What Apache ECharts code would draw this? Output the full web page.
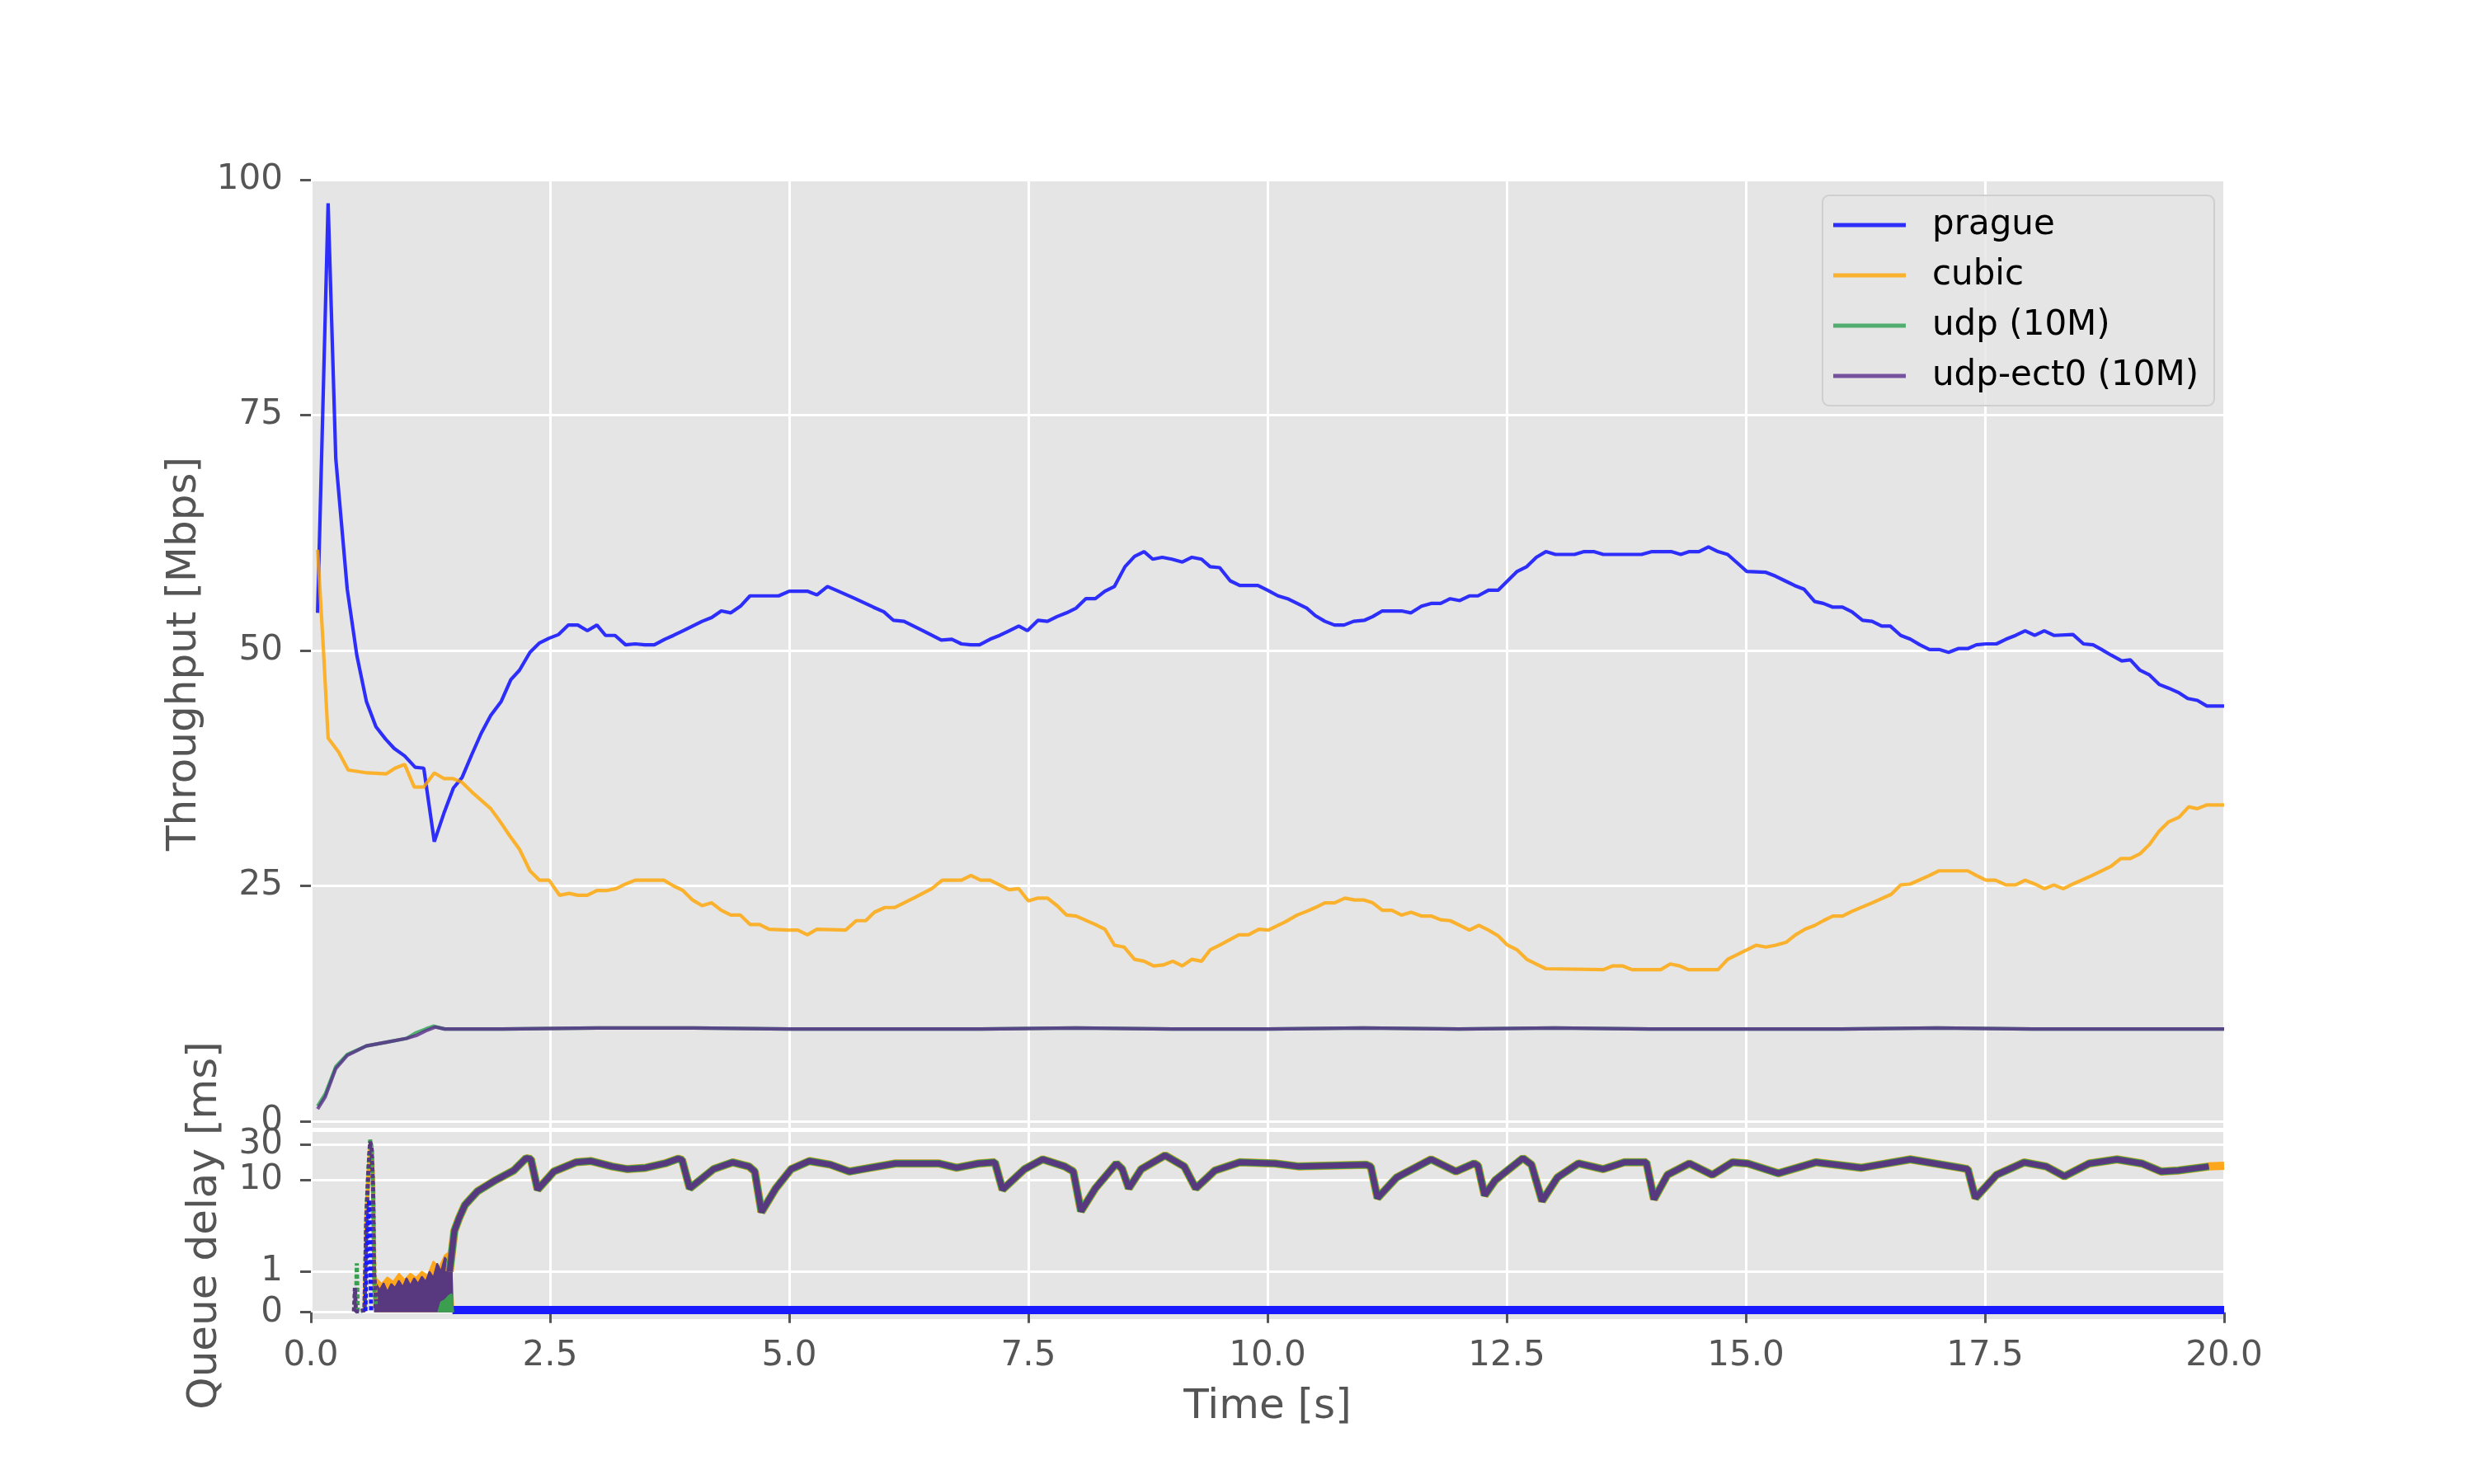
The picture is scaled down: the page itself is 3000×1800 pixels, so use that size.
<!DOCTYPE html>
<html><head><meta charset="utf-8">
<script src="https://cdn.jsdelivr.net/npm/echarts@6/dist/echarts.min.js"></script>
<style>html,body{margin:0;padding:0;background:#fff}#c{width:3000px;height:1800px}</style>
</head><body><div id="c"></div>
<script>
// ---------------- data ----------------
const seriesNames = ['prague', 'cubic', 'udp (10M)', 'udp-ect0 (10M)'];
const tputTicks = [0, 25, 50, 75, 100];
const delayTicks = [0, 1, 10, 30];

// throughput [Mbps] as [time s, value]
const pragueTput = [[0.07,54.0],[0.18,97.5],[0.26,70.4],[0.38,56.5],[0.48,49.5],[0.58,44.6],[0.68,41.9],[0.78,40.6],[0.87,39.6],[0.98,38.8],[1.09,37.6],[1.18,37.5],[1.29,29.7],[1.39,32.7],[1.49,35.4],[1.58,36.5],[1.68,38.9],[1.78,41.2],[1.88,43.1],[1.99,44.6],[2.09,46.9],[2.18,47.9],[2.29,49.8],[2.39,50.8],[2.49,51.3],[2.59,51.7],[2.69,52.7],[2.79,52.7],[2.89,52.1],[2.99,52.7],[3.08,51.6],[3.18,51.6],[3.29,50.6],[3.39,50.7],[3.49,50.6],[3.59,50.6],[3.70,51.2],[3.79,51.6],[3.89,52.1],[3.99,52.6],[4.09,53.1],[4.19,53.5],[4.29,54.2],[4.39,54.0],[4.49,54.7],[4.59,55.8],[4.68,55.8],[4.78,55.8],[4.89,55.8],[5.00,56.3],[5.19,56.3],[5.29,55.9],[5.40,56.8],[5.49,56.4],[5.69,55.5],[5.88,54.6],[5.99,54.1],[6.09,53.2],[6.20,53.1],[6.40,52.1],[6.59,51.1],[6.70,51.2],[6.80,50.7],[6.90,50.6],[6.99,50.6],[7.10,51.2],[7.20,51.6],[7.30,52.1],[7.40,52.6],[7.49,52.1],[7.60,53.2],[7.70,53.1],[7.80,53.6],[7.90,54.0],[8.00,54.5],[8.10,55.5],[8.20,55.5],[8.30,56.3],[8.40,56.8],[8.51,58.9],[8.61,60.0],[8.71,60.5],[8.80,59.7],[8.90,59.9],[9.00,59.7],[9.11,59.4],[9.21,59.9],[9.31,59.7],[9.40,58.9],[9.50,58.8],[9.61,57.4],[9.71,56.9],[9.90,56.9],[10.00,56.4],[10.11,55.8],[10.21,55.5],[10.31,55.0],[10.41,54.5],[10.50,53.7],[10.60,53.1],[10.70,52.7],[10.80,52.7],[10.90,53.1],[11.01,53.2],[11.10,53.6],[11.20,54.2],[11.40,54.2],[11.50,54.0],[11.61,54.7],[11.71,55.0],[11.81,55.0],[11.91,55.5],[12.01,55.3],[12.11,55.8],[12.20,55.8],[12.31,56.4],[12.41,56.4],[12.51,57.4],[12.61,58.4],[12.71,58.9],[12.81,59.9],[12.91,60.5],[13.01,60.2],[13.21,60.2],[13.31,60.5],[13.41,60.5],[13.51,60.2],[13.91,60.2],[14.02,60.5],[14.22,60.5],[14.32,60.2],[14.41,60.5],[14.51,60.5],[14.61,61.0],[14.71,60.5],[14.81,60.2],[14.91,59.3],[15.01,58.4],[15.21,58.3],[15.31,57.9],[15.41,57.4],[15.51,56.9],[15.61,56.5],[15.72,55.2],[15.81,55.0],[15.91,54.6],[16.01,54.6],[16.11,54.1],[16.22,53.2],[16.32,53.1],[16.42,52.6],[16.51,52.6],[16.62,51.6],[16.72,51.2],[16.82,50.6],[16.92,50.1],[17.02,50.1],[17.12,49.8],[17.22,50.2],[17.32,50.2],[17.41,50.6],[17.51,50.7],[17.62,50.7],[17.72,51.2],[17.82,51.6],[17.92,52.1],[18.02,51.6],[18.12,52.1],[18.22,51.6],[18.42,51.7],[18.53,50.7],[18.63,50.6],[18.72,50.1],[18.82,49.5],[18.93,48.9],[19.02,49.0],[19.12,47.9],[19.22,47.4],[19.32,46.4],[19.42,46.0],[19.53,45.5],[19.62,44.9],[19.72,44.7],[19.82,44.1],[20.0,44.1]];

const cubicTput = [[0.07,60.7],[0.13,50.3],[0.18,40.7],[0.29,39.2],[0.39,37.3],[0.59,37.0],[0.79,36.9],[0.88,37.5],[0.98,37.9],[1.08,35.5],[1.18,35.5],[1.29,37.0],[1.39,36.4],[1.48,36.4],[1.58,36.0],[1.68,35.0],[1.78,34.1],[1.88,33.2],[1.98,31.8],[2.08,30.3],[2.18,28.9],[2.29,26.6],[2.39,25.6],[2.49,25.6],[2.60,24.0],[2.70,24.2],[2.79,24.0],[2.89,24.0],[2.99,24.5],[3.09,24.5],[3.19,24.7],[3.29,25.2],[3.39,25.6],[3.59,25.6],[3.69,25.6],[3.79,25.0],[3.89,24.5],[3.99,23.5],[4.09,22.9],[4.19,23.2],[4.29,22.4],[4.39,21.9],[4.49,21.9],[4.59,20.9],[4.69,20.9],[4.79,20.4],[4.99,20.3],[5.09,20.3],[5.19,19.8],[5.29,20.4],[5.59,20.3],[5.70,21.3],[5.80,21.3],[5.89,22.2],[6.00,22.7],[6.10,22.7],[6.30,23.7],[6.49,24.7],[6.60,25.6],[6.80,25.6],[6.90,26.1],[7.00,25.6],[7.10,25.6],[7.20,25.1],[7.30,24.6],[7.40,24.7],[7.50,23.4],[7.60,23.7],[7.70,23.7],[7.80,22.9],[7.90,21.9],[8.00,21.8],[8.20,20.9],[8.30,20.4],[8.40,18.7],[8.50,18.5],[8.61,17.2],[8.71,17.0],[8.81,16.5],[8.91,16.6],[9.01,17.0],[9.11,16.5],[9.21,17.2],[9.31,17.0],[9.40,18.2],[9.50,18.7],[9.70,19.8],[9.80,19.8],[9.91,20.4],[10.01,20.3],[10.11,20.8],[10.19,21.2],[10.31,21.9],[10.41,22.3],[10.50,22.7],[10.60,23.2],[10.70,23.2],[10.81,23.7],[10.91,23.5],[11.01,23.5],[11.10,23.2],[11.20,22.4],[11.30,22.4],[11.40,21.9],[11.50,22.2],[11.61,21.8],[11.71,21.8],[11.81,21.4],[11.91,21.3],[12.01,20.8],[12.11,20.3],[12.21,20.8],[12.31,20.3],[12.41,19.7],[12.51,18.7],[12.61,18.2],[12.71,17.2],[12.81,16.7],[12.91,16.2],[13.51,16.1],[13.61,16.5],[13.71,16.5],[13.81,16.1],[14.11,16.1],[14.21,16.7],[14.31,16.5],[14.40,16.1],[14.71,16.1],[14.81,17.2],[14.91,17.7],[15.01,18.2],[15.11,18.7],[15.21,18.5],[15.31,18.7],[15.42,19.0],[15.52,19.8],[15.62,20.4],[15.72,20.8],[15.81,21.3],[15.91,21.8],[16.01,21.8],[16.11,22.3],[16.32,23.2],[16.52,24.1],[16.62,25.1],[16.72,25.2],[16.92,26.1],[17.02,26.6],[17.32,26.6],[17.41,26.1],[17.51,25.6],[17.61,25.6],[17.72,25.1],[17.82,25.1],[17.92,25.6],[18.02,25.2],[18.12,24.7],[18.22,25.1],[18.32,24.7],[18.42,25.2],[18.62,26.1],[18.82,27.1],[18.92,27.9],[19.02,27.9],[19.12,28.4],[19.22,29.4],[19.32,30.8],[19.42,31.8],[19.53,32.3],[19.63,33.4],[19.72,33.2],[19.82,33.6],[20.0,33.6]];

const udpTput = [[0.07,1.6],[0.15,2.9],[0.26,5.8],[0.38,7.1],[0.58,8.0],[0.79,8.4],[1.0,8.8],[1.1,9.4],[1.2,9.8],[1.28,10.1],[1.4,9.8],[2.0,9.8],[3.0,9.9],[4.0,9.9],[5.0,9.8],[6.0,9.8],[7.0,9.8],[8.0,9.9],[9.0,9.8],[10.0,9.8],[11.0,9.9],[12.0,9.8],[13.0,9.9],[14.0,9.8],[15.0,9.8],[16.0,9.8],[17.0,9.9],[18.0,9.8],[19.0,9.8],[20.0,9.8]];
const ect0Tput = [[0.07,1.3],[0.15,2.6],[0.26,5.6],[0.38,7.0],[0.58,8.0],[0.79,8.4],[1.0,8.8],[1.1,9.1],[1.2,9.6],[1.3,10.0],[1.4,9.8],[2.0,9.8],[3.0,9.9],[4.0,9.9],[5.0,9.8],[6.0,9.8],[7.0,9.8],[8.0,9.9],[9.0,9.8],[10.0,9.8],[11.0,9.9],[12.0,9.8],[13.0,9.9],[14.0,9.8],[15.0,9.8],[16.0,9.8],[17.0,9.9],[18.0,9.8],[19.0,9.8],[20.0,9.8]];

// queue delay [ms] as [time s, value]
const pragueSpike = [[0.57,0.03],[0.59,2.0],[0.61,5.3],[0.62,1.5],[0.63,0.03]];
const pragueBand = [[1.48,0.055],[20.0,0.055]];
const cubicSpike = [[0.56,0.05],[0.58,3.0],[0.60,11],[0.62,30],[0.64,24],[0.655,6],[0.665,0.8],[0.68,0.3]];
const udpSpike = [[0.47,0.02],[0.48,1.2],[0.49,0.02],[0.56,0.05],[0.58,3.5],[0.60,13],[0.62,35],[0.635,27],[0.65,7],[0.665,0.5],[0.68,0.2]];
const ect0Spike = [[0.45,0.02],[0.46,0.6],[0.47,0.02],[0.56,0.05],[0.58,3.0],[0.60,12],[0.62,33],[0.635,26],[0.65,8],[0.66,1.0],[0.68,0.3]];
const classicQueue = [[1.45,1.0],[1.50,2.0],[1.55,3.0],[1.61,4.5],[1.74,6.9],[1.93,9.8],[2.12,13.3],[2.25,19.6],[2.30,19.0],[2.37,7.3],[2.54,12.9],[2.77,17.2],[2.93,17.9],[3.15,15.1],[3.31,13.9],[3.50,14.5],[3.70,16.6],[3.84,19.3],[3.88,18.5],[3.96,7.6],[4.21,13.9],[4.41,17.2],[4.58,15.1],[4.64,12.9],[4.71,3.6],[4.86,7.6],[5.02,13.9],[5.21,17.9],[5.43,16.0],[5.63,12.9],[5.85,14.5],[6.11,16.6],[6.56,16.6],[6.75,14.5],[6.98,16.6],[7.15,17.2],[7.23,7.3],[7.46,13.9],[7.65,18.9],[7.88,15.1],[7.97,12.9],[8.05,3.7],[8.20,7.6],[8.42,16.6],[8.48,14.0],[8.55,7.6],[8.68,13.9],[8.93,21.4],[9.13,15.1],[9.25,7.6],[9.45,13.3],[9.71,17.2],[10.08,16.6],[10.33,15.1],[11.03,16.0],[11.08,15.0],[11.15,5.6],[11.35,10.7],[11.71,18.9],[11.97,12.9],[12.16,16.6],[12.20,15.5],[12.27,6.1],[12.38,9.8],[12.67,19.6],[12.76,16.0],[12.87,5.1],[13.03,10.7],[13.25,16.6],[13.51,13.9],[13.73,17.2],[13.96,17.2],[14.04,5.4],[14.18,11.6],[14.41,16.6],[14.65,11.6],[14.86,17.2],[15.02,16.6],[15.34,12.2],[15.73,17.2],[16.21,14.5],[16.72,18.9],[17.24,14.5],[17.32,13.9],[17.40,5.6],[17.62,11.6],[17.91,17.2],[18.14,15.1],[18.33,11.1],[18.59,16.6],[18.88,18.9],[19.14,16.6],[19.34,12.9],[19.52,13.3],[19.84,15.1]];
const cubicTail = [[20.0,15.4]];
// upper envelopes of the dense sample clouds (0.66 s .. 1.5 s)
const cubicCloud = [[0.66,0.1],[0.68,0.84],[0.74,0.7],[0.80,0.86],[0.86,0.75],[0.92,0.95],[0.98,0.8],[1.04,0.95],[1.10,0.85],[1.16,1.0],[1.22,0.9],[1.28,1.25],[1.34,1.1],[1.40,1.4],[1.46,1.5],[1.49,0.1]];
const ect0Cloud = [[0.66,0.1],[0.68,0.7],[0.72,0.55],[0.76,0.72],[0.80,0.5],[0.84,0.7],[0.88,0.6],[0.92,0.78],[0.96,0.62],[1.00,0.84],[1.04,0.66],[1.08,0.84],[1.12,0.7],[1.16,0.88],[1.20,0.75],[1.24,1.0],[1.28,0.85],[1.32,1.2],[1.36,1.0],[1.40,1.35],[1.44,1.2],[1.47,1.5],[1.48,0.1]];
const udpCloud = [[1.33,0.0],[1.36,0.25],[1.40,0.3],[1.44,0.4],[1.47,0.45],[1.49,0.0]];

// ---------------- symlog scale for the delay axis ----------------
const LINTHRESH = 2, LINSCALE_ADJ = 1 / (1 - 1 / 10);
function symlog(v) {
  if (v === null) return null;
  const a = Math.abs(v);
  const r = a <= LINTHRESH ? a * LINSCALE_ADJ : LINTHRESH * (LINSCALE_ADJ + Math.log10(a / LINTHRESH));
  return v < 0 ? -r : r;
}
const toSym = arr => arr.map(([t, v]) => [t, symlog(v)]);

const C = {
  prague: 'rgba(0,0,255,0.8)', cubic: 'rgba(255,165,0,0.8)',
  udp: 'rgba(44,160,80,0.8)', ect0: 'rgba(90,45,140,0.8)'
};
const B = { prague: '#1a1aff', cubic: '#ffa71c', udp: '#3c9f50', ect0: '#58387f' };
const FONT = 'DejaVu Sans';

function topLine(name, data, color, z) {
  return { name, type: 'line', xAxisIndex: 0, yAxisIndex: 0, data, showSymbol: false, silent: true,
    lineStyle: { width: 4.2, color }, itemStyle: { color }, z };
}
function botLine(name, data, color, width, z, legendColor, dotted) {
  return { name, type: 'line', xAxisIndex: 1, yAxisIndex: 1, data: toSym(data), showSymbol: false, silent: true,
    lineStyle: { width, color, type: dotted ? [5, 3] : 'solid' }, itemStyle: { color: legendColor }, z };
}
function botArea(name, data, color, z, legendColor) {
  return { name, type: 'line', xAxisIndex: 1, yAxisIndex: 1, data: toSym(data), showSymbol: false, silent: true,
    lineStyle: { width: 2, color }, areaStyle: { color, opacity: 1 }, itemStyle: { color: legendColor }, z };
}

const axisText = { fontSize: 42, color: '#555555', fontFamily: FONT };
const splitW = { show: true, lineStyle: { color: '#ffffff', width: 3 } };
const tickStyle = { length: 13, lineStyle: { color: '#555555', width: 3 } };

const option = {
  animation: false,
  backgroundColor: '#ffffff',
  textStyle: { fontFamily: FONT },
  grid: [
    { left: 377, top: 218, width: 2320, height: 1150, show: true, backgroundColor: '#E5E5E5', borderWidth: 0 },
    { left: 377, top: 1373, width: 2320, height: 227, show: true, backgroundColor: '#E5E5E5', borderWidth: 0 }
  ],
  xAxis: [
    { gridIndex: 0, type: 'value', min: 0, max: 20, interval: 2.5,
      axisLine: { show: false }, axisTick: { show: false }, axisLabel: { show: false }, splitLine: splitW },
    { gridIndex: 1, type: 'value', min: 0, max: 20, interval: 2.5,
      axisLine: { show: false }, axisTick: Object.assign({ show: true }, tickStyle),
      axisLabel: Object.assign({ margin: 24, formatter: v => v.toFixed(1) }, axisText),
      splitLine: splitW,
      name: 'Time [s]', nameLocation: 'middle', nameGap: 82,
      nameTextStyle: { fontSize: 50, color: '#555555', fontFamily: FONT } }
  ],
  yAxis: [
    { gridIndex: 0, type: 'value', min: -0.7, max: 100,
      axisLine: { show: false },
      axisTick: Object.assign({ show: true, customValues: tputTicks }, tickStyle),
      axisLabel: Object.assign({ margin: 34, customValues: tputTicks }, axisText),
      splitLine: splitW,
      name: 'Throughput [Mbps]', nameLocation: 'middle', nameGap: 128, nameRotate: 90,
      nameTextStyle: { fontSize: 50, color: '#555555', fontFamily: FONT } },
    { gridIndex: 1, type: 'value', min: -0.187, max: 4.92,
      axisLine: { show: false },
      axisTick: Object.assign({ show: true, customValues: delayTicks.map(symlog) }, tickStyle),
      axisLabel: Object.assign({ margin: 34, customValues: delayTicks.map(symlog),
        formatter: v => { const i = delayTicks.findIndex(t => Math.abs(symlog(t) - v) < 1e-6); return i < 0 ? '' : String(delayTicks[i]); } }, axisText),
      splitLine: splitW,
      name: 'Queue delay [ms]', nameLocation: 'middle', nameGap: 103, nameRotate: 90,
      nameTextStyle: { fontSize: 50, color: '#555555', fontFamily: FONT } }
  ],
  legend: {
    data: seriesNames, orient: 'vertical', left: 2210, top: 237,
    icon: 'rect', itemWidth: 88, itemHeight: 5, itemGap: 11,
    padding: [11, 19, 11, 13],
    backgroundColor: 'rgba(229,229,229,0.8)', borderColor: '#cfcfcf', borderWidth: 2, borderRadius: 8,
    textStyle: { fontSize: 42, color: '#000000', fontFamily: FONT, lineHeight: 50, padding: [0, 0, 0, 27] },
    selectedMode: false
  },
  series: [
    topLine(seriesNames[0], pragueTput, C.prague, 2),
    topLine(seriesNames[1], cubicTput, C.cubic, 3),
    topLine(seriesNames[2], udpTput, C.udp, 4),
    topLine(seriesNames[3], ect0Tput, C.ect0, 5),
    // queue-delay panel
    botArea(seriesNames[1], cubicCloud, B.cubic, 2, C.cubic),
    botArea(seriesNames[3], ect0Cloud, B.ect0, 3, C.ect0),
    botArea(seriesNames[2], udpCloud, B.udp, 4, C.udp),
    botLine(seriesNames[0], pragueBand, B.prague, 10, 3, C.prague, false),
    botLine(seriesNames[1], cubicSpike, B.cubic, 5, 5, C.cubic, true),
    botLine(seriesNames[2], udpSpike, B.udp, 5, 6, C.udp, true),
    botLine(seriesNames[3], ect0Spike, B.ect0, 5, 7, C.ect0, true),
    botLine(seriesNames[0], pragueSpike, B.prague, 5, 8, C.prague, true),
    botLine(seriesNames[1], classicQueue.concat(cubicTail), B.cubic, 10, 5, C.cubic, false),
    botLine(seriesNames[2], classicQueue, B.udp, 9, 6, C.udp, false),
    botLine(seriesNames[3], classicQueue, B.ect0, 7, 7, C.ect0, false)
  ]
};
echarts.init(document.getElementById('c'), null, { renderer: 'canvas' }).setOption(option);
</script></body></html>
